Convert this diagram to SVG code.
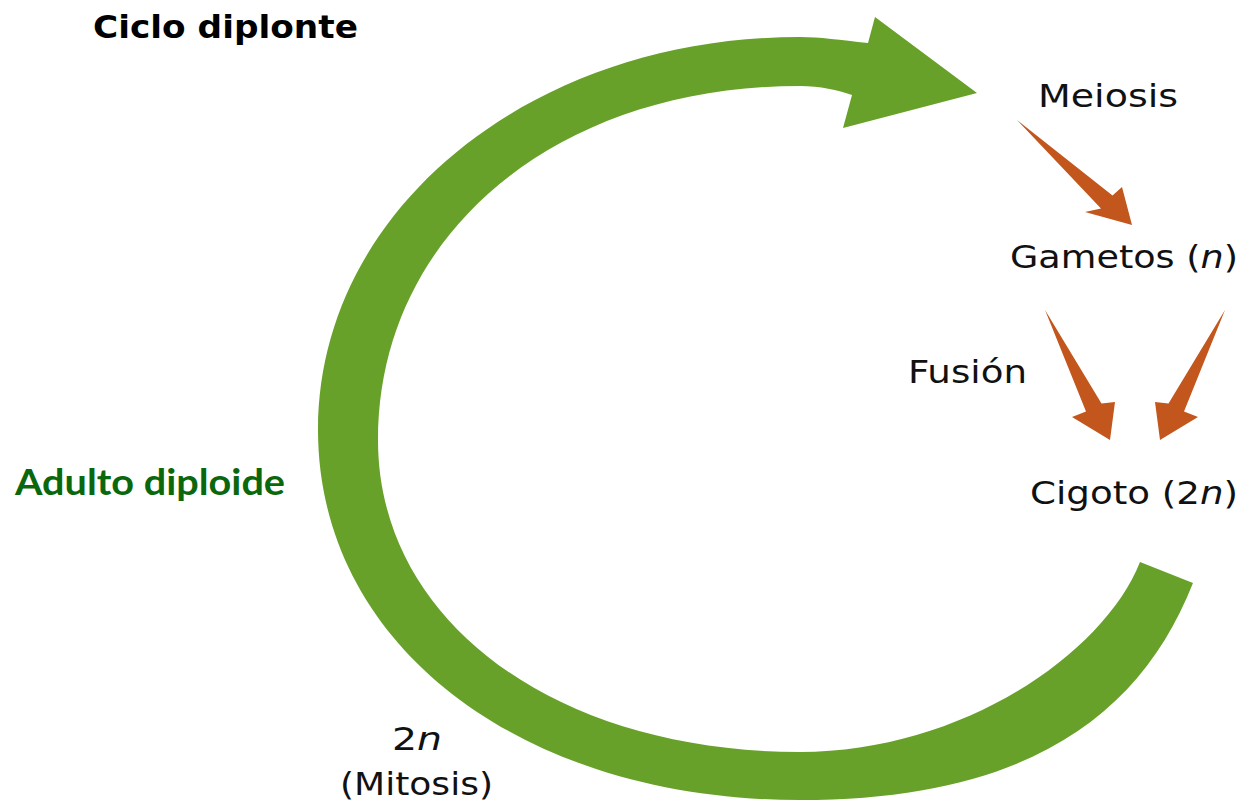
<svg xmlns="http://www.w3.org/2000/svg" width="1244" height="803" viewBox="0 0 1244 803">
<style>
.lbl{font-family:"DejaVu Sans","Liberation Sans",sans-serif;font-size:32px;fill:#111}
.ttl{font-family:"DejaVu Sans","Liberation Sans",sans-serif;font-size:32px;font-weight:bold;fill:#000}
.adult{font-family:Lato,"Open Sans",sans-serif;font-size:37px;font-weight:bold;fill:#0B670B}
.it{font-style:italic}
.cycle{fill:#68A12A}
.orange{fill:#C2561C}
</style>
<rect width="1244" height="803" fill="#fff"/>
<g id="title"><text class="ttl" x="93" y="38" textLength="265" lengthAdjust="spacingAndGlyphs">Ciclo diplonte</text></g>
<g id="connectors">
<path id="cycle-arrow" class="cycle" d="M868,43 C840,40 820,37 800,37 C530,37 318,210 318,430 C318,644.6 520.4,800 800,800 C1030,800 1141.5,713.2 1193,583 L1140,562 C1103.2,655 960,752 800,752 C555,752 378,621 378,440 C378,234.7 555.2,86 800,86 C820,86 838,90 852,95 L843,128 L977,93 L875,17 Z"/>
<polygon id="arrow-meiosis-gametos" class="orange" points="1017,120 1112.5,195.5 1122,187 1132,225 1085,212 1101,208.5"/>
<polygon id="arrow-fusion-left" class="orange" points="1045,310 1101.5,403.5 1115,402 1110,440 1072,417 1086,411.5"/>
<polygon id="arrow-fusion-right" class="orange" points="1225,310 1168.5,403.5 1155,402 1160,440 1198,417 1184,411.5"/>
</g>
<g id="node-meiosis"><text class="lbl" x="1038" y="107" textLength="140" lengthAdjust="spacingAndGlyphs">Meiosis</text></g>
<g id="node-gametos"><text class="lbl" x="1010" y="268" textLength="228" lengthAdjust="spacingAndGlyphs">Gametos (<tspan class="it">n</tspan>)</text></g>
<g id="node-fusion"><text class="lbl" x="908" y="383" textLength="119" lengthAdjust="spacingAndGlyphs">Fusión</text></g>
<g id="node-cigoto"><text class="lbl" x="1030" y="504" textLength="208" lengthAdjust="spacingAndGlyphs">Cigoto (2<tspan class="it">n</tspan>)</text></g>
<g id="node-adulto"><text class="adult" x="15" y="495" textLength="270" lengthAdjust="spacingAndGlyphs">Adulto diploide</text></g>
<g id="node-mitosis">
<text class="lbl" x="392" y="750" textLength="50" lengthAdjust="spacingAndGlyphs">2<tspan class="it">n</tspan></text>
<text class="lbl" x="340" y="795" textLength="153" lengthAdjust="spacingAndGlyphs">(Mitosis)</text>
</g>
</svg>
